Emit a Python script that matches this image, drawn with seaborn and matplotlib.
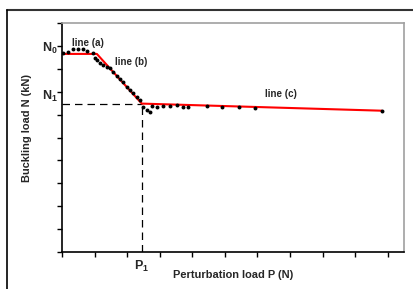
import matplotlib
matplotlib.use("Agg")
import matplotlib.pyplot as plt
import seaborn as sns
import pandas as pd
from matplotlib.lines import Line2D

# measured points (perturbation load, buckling load) in axis units
p_pts = [0.03, 0.18, 0.34, 0.49, 0.64, 0.77, 0.95, 1.01, 1.07, 1.17, 1.26, 1.38,
         1.47, 1.56, 1.69, 1.78, 1.87, 1.99, 2.09, 2.18, 2.30, 2.39, 2.48, 2.61,
         2.70, 2.76, 2.91, 3.10, 3.31, 3.53, 3.71, 3.87, 4.45, 4.91, 5.43, 5.92, 9.82]
n_pts = [8.70, 8.74, 8.87, 8.87, 8.87, 8.78, 8.70, 8.48, 8.39, 8.26, 8.17, 8.09,
         8.04, 7.87, 7.70, 7.57, 7.43, 7.22, 7.09, 6.96, 6.78, 6.65, 6.35, 6.22,
         6.13, 6.39, 6.35, 6.39, 6.39, 6.43, 6.35, 6.35, 6.39, 6.35, 6.35, 6.30, 6.17]

# fitted lines (a), (b), (c)
fit_p = [0.0, 1.07, 2.45, 9.82]
fit_n = [8.65, 8.65, 6.48, 6.17]

P1 = 2.45
N1_line = 6.48

sns.set_style("ticks")
plt.rcParams['font.family'] = ['Liberation Sans', 'DejaVu Sans']
plt.rcParams['mathtext.fontset'] = 'custom'
plt.rcParams['mathtext.rm'] = 'Liberation Sans'
plt.rcParams['mathtext.bf'] = 'Liberation Sans:bold'

fig = plt.figure(figsize=(4.14, 2.89), dpi=100)
ax = fig.add_axes([62/414, 37/289, 342/414, 229/289])

ax.plot([0, P1], [N1_line, N1_line], color='black', lw=0.9, ls=(0, (6, 4)))
ax.plot([P1, P1], [0, N1_line], color='black', lw=0.9, ls=(0, (6, 4)))

df = pd.DataFrame({'P': p_pts, 'N': n_pts})
sns.scatterplot(data=df, x='P', y='N', ax=ax, color='black', s=8, linewidth=0, zorder=3)
fit = pd.DataFrame({'P': fit_p, 'N': fit_n})
sns.lineplot(data=fit, x='P', y='N', ax=ax, color='#ff0000', lw=1.5, sort=False, zorder=2)

ax.set_xlim(0, 10.5)
ax.set_ylim(0, 10)
ax.set_xticks(range(0, 11))
ax.set_yticks(range(0, 11))
ax.set_xticklabels([])
ax.set_yticklabels([])
ax.tick_params(direction='out', length=3.5, width=1, color='black')

ax.spines['left'].set_color('black')
ax.spines['bottom'].set_color('black')
ax.spines['left'].set_linewidth(1.2)
ax.spines['bottom'].set_linewidth(1.2)
ax.spines['top'].set_color('#a0a0a0')
ax.spines['right'].set_color('#a0a0a0')
ax.spines['top'].set_linewidth(1.2)
ax.spines['right'].set_linewidth(1.2)

# custom tick labels
ax.text(-0.12, 8.9, r'$\mathbf{N}_{\mathbf{0}}$', ha='right', va='center', fontsize=9)
ax.text(-0.12, 6.8, r'$\mathbf{N}_{\mathbf{1}}$', ha='right', va='center', fontsize=9)
ax.text(P1, -0.3, r'$\mathbf{P}_{\mathbf{1}}$', ha='center', va='top', fontsize=9)

ax.text(0.31, 9.13, 'line (a)', fontsize=7, fontweight='bold', va='center')
ax.text(1.63, 8.30, 'line (b)', fontsize=7, fontweight='bold', va='center')
ax.text(6.23, 6.91, 'line (c)', fontsize=7, fontweight='bold', va='center')

ax.set_xlabel('Perturbation load P (N)', fontsize=7.9, fontweight='bold', labelpad=6)
ax.set_ylabel('Buckling load N (kN)', fontsize=7.9, fontweight='bold')
ax.yaxis.set_label_coords(-0.088, 0.54)
ax.set_facecolor('white')

# outer frame (top and left edges visible)
fig.add_artist(Line2D([7/414, 1.0], [1 - 10/289, 1 - 10/289], color='#333333', lw=1.5,
                      transform=fig.transFigure))
fig.add_artist(Line2D([7/414, 7/414], [0.0, 1 - 10/289], color='black', lw=1.2,
                      transform=fig.transFigure))

fig.savefig('out.png', dpi=100)
